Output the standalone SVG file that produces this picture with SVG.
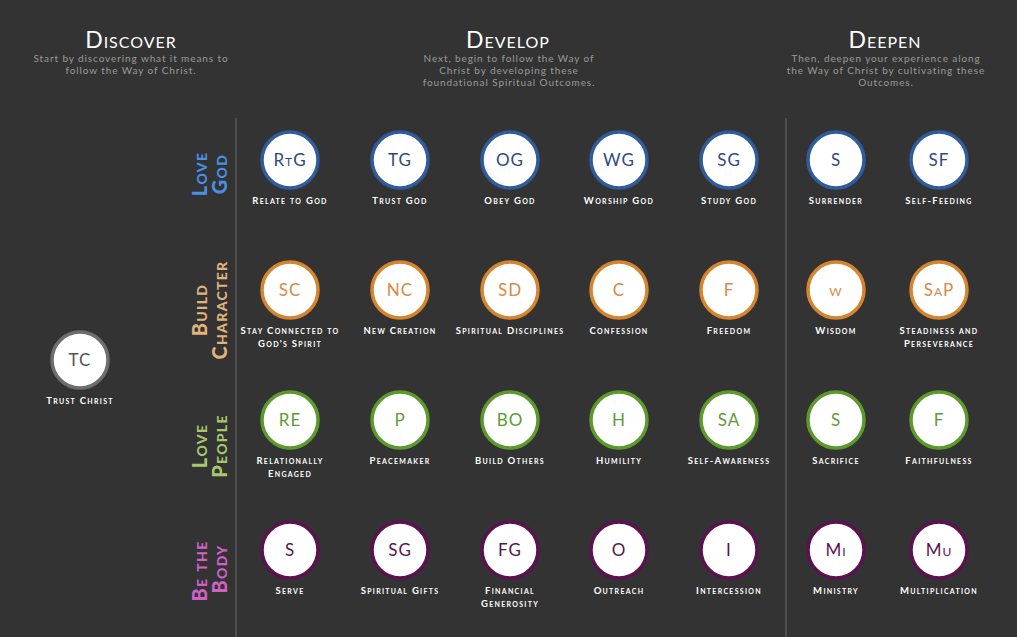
<svg xmlns="http://www.w3.org/2000/svg" width="1017" height="637" viewBox="0 0 1017 637">
<style>
text{font-family:Lato,"Open Sans","Liberation Sans",sans-serif;font-variant:small-caps}
.hd{font-size:23px;fill:#ffffff;text-anchor:middle;letter-spacing:1px}
.sub{font-size:10px;fill:#9a9a9a;text-anchor:middle;letter-spacing:0.9px;font-variant:normal}
.rl{font-size:20px;font-weight:900;text-anchor:middle;letter-spacing:1.3px}
.lb{font-size:9.5px;font-weight:700;fill:#ffffff;text-anchor:middle;letter-spacing:1.3px}
.ct{font-size:17px;text-anchor:middle;letter-spacing:1px}
circle{fill:#ffffff;stroke-width:3.5}
.b circle{stroke:#2f5c9c}.b .ct{fill:#2c4a7e}
.o circle{stroke:#d6842e}.o .ct{fill:#d48a48}
.g circle{stroke:#5d9a2c}.g .ct{fill:#5f9a34}
.p circle{stroke:#5c1150}.p .ct{fill:#5a1450}
.k circle{stroke:#6e6e6e}.k .ct{fill:#555555}
.vl{stroke:#6a6a6a;stroke-width:1}
</style>
<rect width="1017" height="637" fill="#333333"/>
<g id="headers">
<text class="hd" x="131" y="48">Discover</text>
<text class="sub" x="131" y="62">Start by discovering what it means to</text>
<text class="sub" x="131" y="74">follow the Way of Christ.</text>
<text class="hd" x="508" y="48">Develop</text>
<text class="sub" x="509" y="62">Next, begin to follow the Way of</text>
<text class="sub" x="509" y="74">Christ by developing these</text>
<text class="sub" x="509" y="86">foundational Spiritual Outcomes.</text>
<text class="hd" x="885" y="48">Deepen</text>
<text class="sub" x="886" y="62">Then, deepen your experience along</text>
<text class="sub" x="886" y="74">the Way of Christ by cultivating these</text>
<text class="sub" x="886" y="86">Outcomes.</text>
</g>
<g id="dividers">
<line class="vl" x1="236" y1="118" x2="236" y2="637"/>
<line class="vl" x1="786" y1="118" x2="786" y2="637"/>
</g>
<g id="row-labels">
<text class="rl" fill="#4a8fe6" transform="translate(207,174) rotate(-90)">Love</text>
<text class="rl" fill="#4a8fe6" transform="translate(227,174) rotate(-90)">God</text>
<text class="rl" fill="#e0b27c" transform="translate(207,310) rotate(-90)">Build</text>
<text class="rl" fill="#e0b27c" transform="translate(227,310) rotate(-90)">Character</text>
<text class="rl" fill="#a6c76c" transform="translate(207,446) rotate(-90)">Love</text>
<text class="rl" fill="#a6c76c" transform="translate(227,446) rotate(-90)">People</text>
<text class="rl" fill="#d160c8" transform="translate(207,571) rotate(-90)">Be the</text>
<text class="rl" fill="#d160c8" transform="translate(227,569) rotate(-90)">Body</text>
</g>
<g id="tc" class="k"><circle cx="80" cy="360" r="28"/><text class="ct" x="80" y="366">TC</text><text class="lb" x="80" y="404">Trust Christ</text></g>
<g id="rtg" class="b"><circle cx="290" cy="160" r="28"/><text class="ct" x="290" y="166">RtG</text><text class="lb" x="290" y="204">Relate to God</text></g>
<g id="tg" class="b"><circle cx="400" cy="160" r="28"/><text class="ct" x="400" y="166">TG</text><text class="lb" x="400" y="204">Trust God</text></g>
<g id="og" class="b"><circle cx="510" cy="160" r="28"/><text class="ct" x="510" y="166">OG</text><text class="lb" x="510" y="204">Obey God</text></g>
<g id="wg" class="b"><circle cx="619" cy="160" r="28"/><text class="ct" x="619" y="166">WG</text><text class="lb" x="619" y="204">Worship God</text></g>
<g id="sg1" class="b"><circle cx="729" cy="160" r="28"/><text class="ct" x="729" y="166">SG</text><text class="lb" x="729" y="204">Study God</text></g>
<g id="s1" class="b"><circle cx="836" cy="160" r="28"/><text class="ct" x="836" y="166">S</text><text class="lb" x="836" y="204">Surrender</text></g>
<g id="sf" class="b"><circle cx="939" cy="160" r="28"/><text class="ct" x="939" y="166">SF</text><text class="lb" x="939" y="204">Self-Feeding</text></g>
<g id="sc" class="o"><circle cx="290" cy="290" r="28"/><text class="ct" x="290" y="296">SC</text><text class="lb" x="290" y="334">Stay Connected to</text><text class="lb" x="290" y="347">God's Spirit</text></g>
<g id="nc" class="o"><circle cx="400" cy="290" r="28"/><text class="ct" x="400" y="296">NC</text><text class="lb" x="400" y="334">New Creation</text></g>
<g id="sd" class="o"><circle cx="510" cy="290" r="28"/><text class="ct" x="510" y="296">SD</text><text class="lb" x="510" y="334">Spiritual Disciplines</text></g>
<g id="c" class="o"><circle cx="619" cy="290" r="28"/><text class="ct" x="619" y="296">C</text><text class="lb" x="619" y="334">Confession</text></g>
<g id="f1" class="o"><circle cx="729" cy="290" r="28"/><text class="ct" x="729" y="296">F</text><text class="lb" x="729" y="334">Freedom</text></g>
<g id="w" class="o"><circle cx="836" cy="290" r="28"/><text class="ct" x="836" y="296">w</text><text class="lb" x="836" y="334">Wisdom</text></g>
<g id="sap" class="o"><circle cx="939" cy="290" r="28"/><text class="ct" x="939" y="296">SaP</text><text class="lb" x="939" y="334">Steadiness and</text><text class="lb" x="939" y="347">Perseverance</text></g>
<g id="re" class="g"><circle cx="290" cy="420" r="28"/><text class="ct" x="290" y="426">RE</text><text class="lb" x="290" y="464">Relationally</text><text class="lb" x="290" y="477">Engaged</text></g>
<g id="p" class="g"><circle cx="400" cy="420" r="28"/><text class="ct" x="400" y="426">P</text><text class="lb" x="400" y="464">Peacemaker</text></g>
<g id="bo" class="g"><circle cx="510" cy="420" r="28"/><text class="ct" x="510" y="426">BO</text><text class="lb" x="510" y="464">Build Others</text></g>
<g id="h" class="g"><circle cx="619" cy="420" r="28"/><text class="ct" x="619" y="426">H</text><text class="lb" x="619" y="464">Humility</text></g>
<g id="sa" class="g"><circle cx="729" cy="420" r="28"/><text class="ct" x="729" y="426">SA</text><text class="lb" x="729" y="464">Self-Awareness</text></g>
<g id="s2" class="g"><circle cx="836" cy="420" r="28"/><text class="ct" x="836" y="426">S</text><text class="lb" x="836" y="464">Sacrifice</text></g>
<g id="f2" class="g"><circle cx="939" cy="420" r="28"/><text class="ct" x="939" y="426">F</text><text class="lb" x="939" y="464">Faithfulness</text></g>
<g id="s3" class="p"><circle cx="290" cy="550" r="28"/><text class="ct" x="290" y="556">S</text><text class="lb" x="290" y="594">Serve</text></g>
<g id="sg2" class="p"><circle cx="400" cy="550" r="28"/><text class="ct" x="400" y="556">SG</text><text class="lb" x="400" y="594">Spiritual Gifts</text></g>
<g id="fg" class="p"><circle cx="510" cy="550" r="28"/><text class="ct" x="510" y="556">FG</text><text class="lb" x="510" y="594">Financial</text><text class="lb" x="510" y="607">Generosity</text></g>
<g id="o" class="p"><circle cx="619" cy="550" r="28"/><text class="ct" x="619" y="556">O</text><text class="lb" x="619" y="594">Outreach</text></g>
<g id="i" class="p"><circle cx="729" cy="550" r="28"/><text class="ct" x="729" y="556">I</text><text class="lb" x="729" y="594">Intercession</text></g>
<g id="mi" class="p"><circle cx="836" cy="550" r="28"/><text class="ct" x="836" y="556">Mi</text><text class="lb" x="836" y="594">Ministry</text></g>
<g id="mu" class="p"><circle cx="939" cy="550" r="28"/><text class="ct" x="939" y="556">Mu</text><text class="lb" x="939" y="594">Multiplication</text></g>
</svg>
